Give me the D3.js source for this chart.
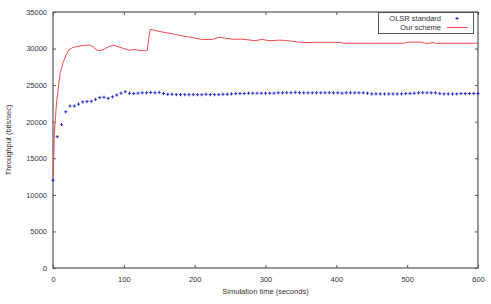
<!DOCTYPE html>
<html>
<head>
<meta charset="utf-8">
<script src="https://cdn.jsdelivr.net/npm/d3@7"></script>
<style>
  html, body { margin: 0; padding: 0; background: #fff; }
  svg { display: block; font-family: "Liberation Sans", Arial, sans-serif; }
</style>
</head>
<body>
<svg id="chart" width="491" height="304"></svg>
<script>
// OLSR standard: sampled every 6 s
const olsrTime = d3.range(0, 601, 6)
const olsrValues = [
  12000, 17950, 19600, 21350, 22150, 22150, 22400, 22700, 22750, 22800,
  23050, 23300, 23350, 23200, 23400, 23650, 23900, 24100, 23900, 23850,
  23900, 23950, 23950, 24000, 23950, 24000, 23850, 23750, 23750, 23700,
  23700, 23700, 23700, 23700, 23700, 23700, 23750, 23700, 23700, 23700,
  23750, 23750, 23800, 23850, 23850, 23850, 23900, 23900, 23900, 23900,
  23900, 23900, 23900, 23950, 23950, 23950, 23950, 24000, 23950, 23950,
  23950, 23950, 23950, 23950, 23950, 23950, 23950, 23950, 23900, 23950,
  23950, 23950, 23950, 23950, 23900, 23800, 23800, 23800, 23800, 23800,
  23800, 23800, 23800, 23850, 23850, 23900, 23950, 23950, 23950, 23950,
  23950, 23850, 23800, 23800, 23800, 23800, 23850, 23850, 23850, 23850,
  23850
]

// Our scheme: line
const oursTime = [0, 1, 2, 5, 10, 14, 18, 22, 28, 35, 45, 52, 57, 62, 66, 72, 78, 86, 92, 100,
  108, 115, 122, 130, 133, 137, 145, 155, 170, 185, 200, 210, 225, 235, 245, 255, 265, 275, 285, 295,
  305, 320, 330, 345, 360, 367, 380, 405, 410, 450, 495, 500, 520, 525, 532, 535, 540, 600]
const oursValues = [12200, 15000, 18500, 22600, 26600, 28000, 29000, 29800, 30150, 30300, 30450, 30480, 30200, 29800, 29700, 29900, 30250, 30450, 30250, 30000,
  29750, 29900, 29750, 29700, 29750, 32650, 32450, 32250, 31990, 31700, 31450, 31250, 31250, 31550, 31400, 31260, 31300, 31200, 31080, 31250,
  31080, 31150, 31100, 30900, 30800, 30850, 30850, 30850, 30720, 30720, 30720, 30880, 30880, 30720, 30720, 30850, 30720, 30720]

const xTicks = [0, 100, 200, 300, 400, 500, 600]
const yTicks = [0, 5000, 10000, 15000, 20000, 25000, 30000, 35000]

const svg = d3.select("#chart")
const margin = { left: 53, right: 13, top: 12, bottom: 36 }
const width = 491
const height = 304

const x = d3.scaleLinear().domain([0, 600]).range([margin.left, width - margin.right])
const y = d3.scaleLinear().domain([0, 35000]).range([height - margin.bottom, margin.top])

const axisColor = "#555"
const textColor = "#333"
const tickLen = 3

// frame
svg.append("rect")
  .attr("x", x(0))
  .attr("y", y(35000))
  .attr("width", x(600) - x(0))
  .attr("height", y(0) - y(35000))
  .attr("fill", "none")
  .attr("stroke", axisColor)
  .attr("stroke-width", 1.2)

const styleAxis = g => {
  g.select(".domain").remove()
  g.selectAll(".tick line").attr("stroke", axisColor)
  g.selectAll(".tick text").attr("fill", textColor).attr("font-size", 7.5)
}

svg.append("g")
  .attr("transform", `translate(0,${y(0)})`)
  .call(d3.axisBottom(x).tickValues(xTicks).tickSize(-tickLen).tickPadding(9).tickFormat(d3.format("d")))
  .call(styleAxis)

svg.append("g")
  .attr("transform", `translate(0,${y(35000)})`)
  .call(d3.axisTop(x).tickValues(xTicks).tickSize(-tickLen).tickFormat(""))
  .call(styleAxis)

svg.append("g")
  .attr("transform", `translate(${x(0)},0)`)
  .call(d3.axisLeft(y).tickValues(yTicks).tickSize(-tickLen).tickPadding(6).tickFormat(d3.format("d")))
  .call(styleAxis)

svg.append("g")
  .attr("transform", `translate(${x(600)},0)`)
  .call(d3.axisRight(y).tickValues(yTicks).tickSize(-tickLen).tickFormat(""))
  .call(styleAxis)

// axis titles
svg.append("text")
  .attr("x", (x(0) + x(600)) / 2)
  .attr("y", 294)
  .attr("text-anchor", "middle")
  .attr("font-size", 7.5)
  .attr("fill", textColor)
  .text("Simulation time (seconds)")

svg.append("text")
  .attr("transform", `translate(11,${(y(0) + y(35000)) / 2}) rotate(-90)`)
  .attr("text-anchor", "middle")
  .attr("font-size", 7.5)
  .attr("fill", textColor)
  .text("Throughput (bits/sec)")

// our scheme line
const oursData = oursTime.map((t, i) => ({ t, v: oursValues[i] }))
svg.append("path")
  .datum(oursData)
  .attr("fill", "none")
  .attr("stroke", "#f04848")
  .attr("stroke-width", 1)
  .attr("d", d3.line().x(d => x(d.t)).y(d => y(d.v)))

// OLSR points as "+"
const olsrData = olsrTime.map((t, i) => ({ t, v: olsrValues[i] }))
const cross = 1.6
svg.append("g")
  .attr("stroke", "#1a1ad0")
  .attr("stroke-width", 0.9)
  .selectAll("path")
  .data(olsrData)
  .join("path")
  .attr("d", d => `M${x(d.t) - cross},${y(d.v)}h${2 * cross}M${x(d.t)},${y(d.v) - cross}v${2 * cross}`)

// legend
const legend = svg.append("g")
legend.append("rect")
  .attr("x", 378.5).attr("y", 12.5)
  .attr("width", 95).attr("height", 21)
  .attr("fill", "#fff")
  .attr("stroke", axisColor)
  .attr("stroke-width", 1)

legend.append("text")
  .attr("x", 441).attr("y", 21)
  .attr("text-anchor", "end")
  .attr("font-size", 7.5)
  .attr("fill", textColor)
  .text("OLSR standard")

legend.append("text")
  .attr("x", 441).attr("y", 30)
  .attr("text-anchor", "end")
  .attr("font-size", 7.5)
  .attr("fill", textColor)
  .text("Our scheme")

legend.append("path")
  .attr("stroke", "#1a1ad0")
  .attr("stroke-width", 0.9)
  .attr("d", `M${457 - cross},18.5h${2 * cross}M457,${18.5 - cross}v${2 * cross}`)

legend.append("line")
  .attr("x1", 447).attr("x2", 468)
  .attr("y1", 27.5).attr("y2", 27.5)
  .attr("stroke", "#f04848")
  .attr("stroke-width", 1)
</script>
</body>
</html>
